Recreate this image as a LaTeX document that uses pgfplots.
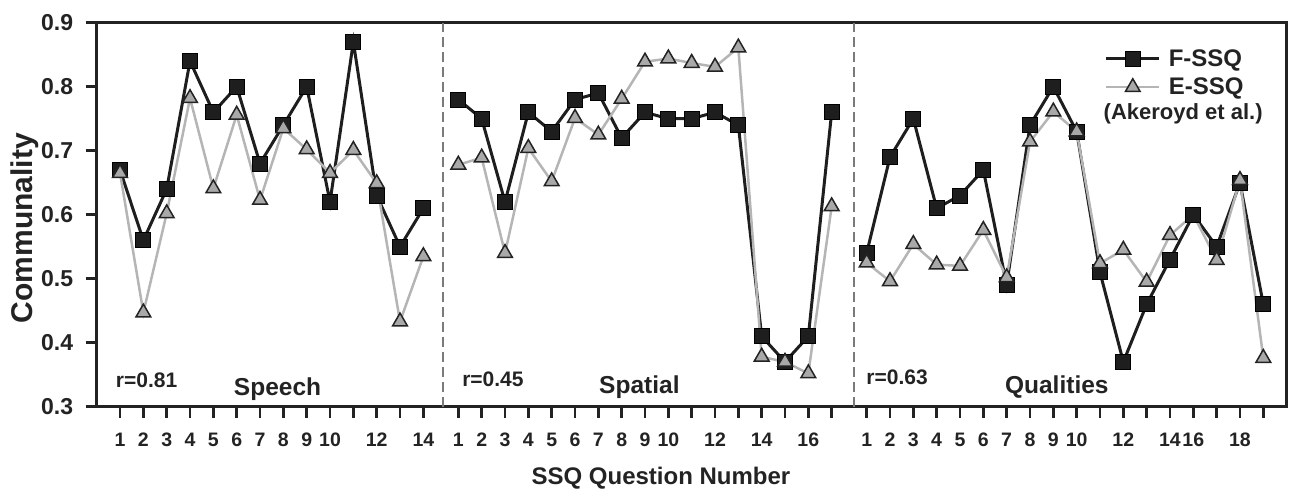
\documentclass[border=0pt]{standalone}
\usepackage{fontspec}
\setmainfont{Liberation Sans}
\usepackage{pgfplots}
\pgfplotsset{compat=1.18}

\definecolor{fcol}{HTML}{1E1E1E}
\definecolor{eline}{HTML}{B5B5B5}
\definecolor{efill}{HTML}{A9A9A9}
\definecolor{axcol}{HTML}{232323}
\definecolor{dashcol}{HTML}{7A7A7A}

\newcommand{\fs}[1]{\fontsize{#1}{#1}\selectfont\bfseries}

\pgfplotsset{
  fssq/.style={fcol, line width=3pt, mark=square*, mark size=7.5pt,
    mark options={solid, fill=fcol, draw=black, line width=1pt}},
  essq/.style={eline, line width=2.5pt, mark=triangle*, mark size=8.5pt,
    mark options={solid, fill=efill, draw=axcol, line width=1.5pt}},
}

\begin{document}
\begin{tikzpicture}
\useasboundingbox (-96.7pt,-81.3pt) rectangle (1195.3pt,406.7pt);
\begin{axis}[
  at={(0pt,0pt)}, anchor=south west,
  width=1190pt, height=384pt, scale only axis,
  xmin=0, xmax=51, ymin=0.3, ymax=0.9,
  ytick={0.3,0.4,0.5,0.6,0.7,0.8,0.9},
  yticklabels={0.3,0.4,0.5,0.6,0.7,0.8,0.9},
  xtick={1,2,3,4,5,6,7,8,9,10,11,12,13,14,
         15.5,16.5,17.5,18.5,19.5,20.5,21.5,22.5,23.5,24.5,25.5,26.5,27.5,28.5,29.5,30.5,31.5,
         33,34,35,36,37,38,39,40,41,42,43,44,45,46,47,48,49,50},
  xticklabels={1,2,3,4,5,6,7,8,9,10,{},12,{},14,
               1,2,3,4,5,6,7,8,9,10,{},12,{},14,{},16,{},
               1,2,3,4,5,6,7,8,9,10,{},12,{},14,16,{},18,{}},
  axis line style={line width=3pt, axcol},
  every tick/.style={line width=2.5pt, axcol},
  tick align=outside, major tick length=11pt,
  xtick pos=bottom, ytick pos=left,
  yticklabel style={font=\fs{23}, text=axcol, xshift=-9pt},
  xticklabel style={font=\fs{19.5}, text=axcol, yshift=-12pt},
  xlabel={SSQ Question Number},
  ylabel={Communality},
  xlabel style={at={(rel axis cs:0.4742,0)}, anchor=base, yshift=-77.3pt, font=\fs{24}, text=axcol},
  ylabel style={at={(rel axis cs:-0.05437,0.465)}, anchor=base, font=\fs{30}, text=axcol},
  legend style={at={(rel axis cs:0.847,0.935)}, anchor=north west, draw=none, fill=none,
    font=\fs{24}, text=axcol, inner sep=0pt, row sep=6pt,
    /tikz/every odd column/.append style={column sep=6pt}},
  legend cell align=left,
  legend image code/.code={\draw[#1, mark repeat=2, mark phase=2]
    plot coordinates {(0pt,0pt) (26.5pt,0pt) (53pt,0pt)};},
  clip=false,
]
% Speech
\addplot[fssq] coordinates {(1,0.67) (2,0.56) (3,0.64) (4,0.84) (5,0.76) (6,0.80) (7,0.68)
  (8,0.74) (9,0.80) (10,0.62) (11,0.87) (12,0.63) (13,0.55) (14,0.61)};
\addlegendentry{F-SSQ}
\addplot[essq] coordinates {(1,0.665) (2,0.447) (3,0.602) (4,0.782) (5,0.641) (6,0.756) (7,0.623)
  (8,0.735) (9,0.702) (10,0.665) (11,0.701) (12,0.649) (13,0.433) (14,0.535)};
\addlegendentry{E-SSQ}
% Spatial
\addplot[fssq, forget plot] coordinates {(15.5,0.78) (16.5,0.75) (17.5,0.62) (18.5,0.76) (19.5,0.73)
  (20.5,0.78) (21.5,0.79) (22.5,0.72) (23.5,0.76) (24.5,0.75) (25.5,0.75) (26.5,0.76)
  (27.5,0.74) (28.5,0.41) (29.5,0.37) (30.5,0.41) (31.5,0.76)};
\addplot[essq, forget plot] coordinates {(15.5,0.678) (16.5,0.689) (17.5,0.540) (18.5,0.704) (19.5,0.652)
  (20.5,0.751) (21.5,0.725) (22.5,0.781) (23.5,0.839) (24.5,0.844) (25.5,0.837) (26.5,0.831)
  (27.5,0.861) (28.5,0.378) (29.5,0.370) (30.5,0.352) (31.5,0.613)};
% Qualities
\addplot[fssq, forget plot] coordinates {(33,0.54) (34,0.69) (35,0.75) (36,0.61) (37,0.63) (38,0.67)
  (39,0.49) (40,0.74) (41,0.80) (42,0.73) (43,0.51) (44,0.37) (45,0.46) (46,0.53) (47,0.60)
  (48,0.55) (49,0.65) (50,0.46)};
\addplot[essq, forget plot, mark indices={1,2,3,4,5,6,7,8,9,10,11,12,13,14,16,17,18}]
  coordinates {(33,0.525) (34,0.496) (35,0.554) (36,0.522) (37,0.520) (38,0.576)
  (39,0.502) (40,0.714) (41,0.761) (42,0.730) (43,0.524) (44,0.545) (45,0.495) (46,0.568) (47,0.60)
  (48,0.529) (49,0.654) (50,0.376)};

\draw[dashcol, line width=2pt, dash pattern=on 10pt off 5pt] (axis cs:14.86,0.3) -- (axis cs:14.86,0.9);
\draw[dashcol, line width=2pt, dash pattern=on 10pt off 5pt] (axis cs:32.44,0.3) -- (axis cs:32.44,0.9);

\node[anchor=base west, inner sep=0pt, font=\fs{21}, text=axcol] at (axis cs:0.816,0.330) {r=0.81};
\node[anchor=base west, inner sep=0pt, font=\fs{21}, text=axcol] at (axis cs:15.66,0.331) {r=0.45};
\node[anchor=base west, inner sep=0pt, font=\fs{21}, text=axcol] at (axis cs:32.98,0.334) {r=0.63};
\node[anchor=base, inner sep=0pt, font=\fs{24.5}, text=axcol] at (axis cs:7.75,0.318) {Speech};
\node[anchor=base, inner sep=0pt, font=\fs{24.5}, text=axcol] at (axis cs:23.26,0.321) {Spatial};
\node[anchor=base, inner sep=0pt, font=\fs{24.5}, text=axcol] at (axis cs:41.15,0.321) {Qualities};
\node[anchor=base west, inner sep=0pt, font=\fs{22}, text=axcol] at (axis cs:43.15,0.7495) {(Akeroyd et al.)};
\end{axis}
\end{tikzpicture}
\end{document}
